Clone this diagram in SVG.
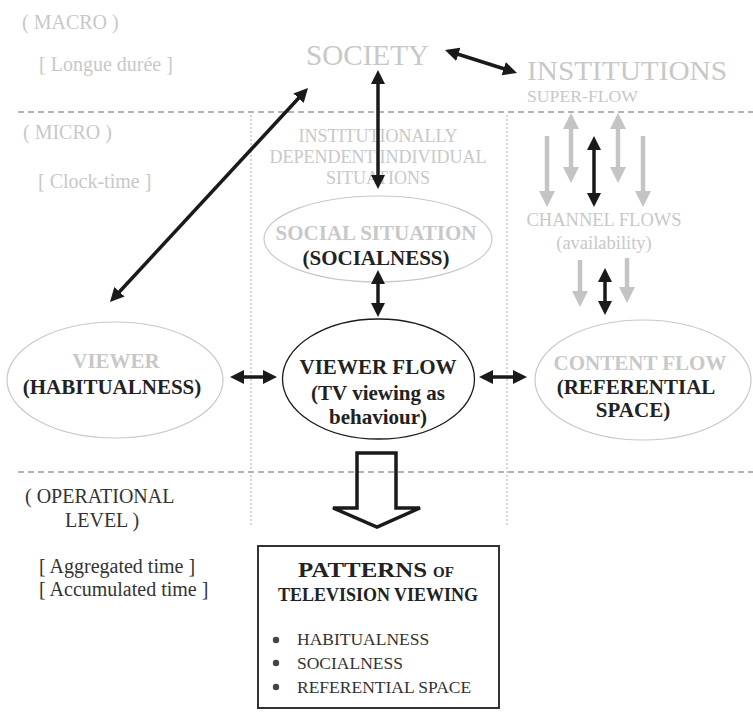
<svg xmlns="http://www.w3.org/2000/svg" width="753" height="714" viewBox="0 0 753 714" font-family="'Liberation Serif', 'Times New Roman', serif">
<defs>
<style>
text{font-family:'Liberation Serif','Times New Roman',serif;}
.g{fill:#c8c8c8;}
.d{fill:#222;}
.b{font-weight:bold;}
.lab{font-size:20px;}
.ell{font-size:21px;font-weight:bold;}
.mid{text-anchor:middle;}
.dash{stroke:#9a9a9a;stroke-width:1.3;stroke-dasharray:6,4;fill:none;}
.dot{stroke:#aaa;stroke-width:1;stroke-dasharray:2,2;fill:none;}
.ge{fill:none;stroke:#c8c8c8;stroke-width:1.2;}
.blk{stroke:#1a1a1a;stroke-width:3.5;fill:none;}
.gry{stroke:#c4c4c4;stroke-width:4.5;fill:none;}
</style>
<marker id="ah" viewBox="0 0 14 14" refX="1" refY="7" markerWidth="14" markerHeight="14" markerUnits="userSpaceOnUse" orient="auto-start-reverse"><path d="M0,0 L14,7 L0,14 z" fill="#1a1a1a"/></marker>
<marker id="gh" viewBox="0 0 16 16" refX="1" refY="8" markerWidth="16" markerHeight="16" markerUnits="userSpaceOnUse" orient="auto-start-reverse"><path d="M0,0 L16,8 L0,16 z" fill="#c4c4c4"/></marker>
</defs>
<rect width="753" height="714" fill="#fff"/>

<g id="grid">
<line class="dash" x1="18" y1="112" x2="753" y2="112"/>
<line class="dash" x1="18" y1="472" x2="753" y2="472"/>
<line class="dot" x1="251" y1="115" x2="251" y2="525"/>
<line class="dot" x1="507" y1="115" x2="507" y2="525"/>
</g>

<g id="level-labels">
<text class="g lab" x="22" y="29">( MACRO )</text>
<text class="g lab" x="39" y="71">[ Longue durée ]</text>
<text class="g lab" x="23" y="139">( MICRO )</text>
<text class="g lab" x="38" y="188">[ Clock-time ]</text>
<text class="lab" x="25" y="503" fill="#333">( OPERATIONAL</text>
<text class="lab" x="65" y="527" fill="#333">LEVEL )</text>
<text class="lab" x="39" y="573" fill="#333">[ Aggregated time ]</text>
<text class="lab" x="39" y="596" fill="#333">[ Accumulated time ]</text>
</g>

<g id="society">
<text class="g" x="306" y="65" font-size="29" textLength="123" lengthAdjust="spacingAndGlyphs">SOCIETY</text>
</g>

<g id="institutions">
<text class="g" x="527" y="80" font-size="27" textLength="200" lengthAdjust="spacingAndGlyphs">INSTITUTIONS</text>
<text class="g" x="527" y="102" font-size="17.5" textLength="111" lengthAdjust="spacingAndGlyphs">SUPER-FLOW</text>
</g>

<g id="individual-situations">
<text class="g mid" x="378" y="142" font-size="18">INSTITUTIONALLY</text>
<text class="g mid" x="378" y="163" font-size="18">DEPENDENT INDIVIDUAL</text>
<text class="g mid" x="378" y="184" font-size="18">SITUATIONS</text>
</g>

<g id="channel-flows">
<text class="g mid" x="604" y="226" font-size="18.5">CHANNEL FLOWS</text>
<text class="g mid" x="604" y="249" font-size="18.5">(availability)</text>
</g>

<g id="social-situation">
<ellipse class="ge" cx="378" cy="239" rx="114" ry="43"/>
<text class="g ell mid" x="376" y="240">SOCIAL SITUATION</text>
<text class="d ell mid" x="376" y="265">(SOCIALNESS)</text>
</g>

<g id="viewer">
<ellipse class="ge" cx="115" cy="380" rx="108" ry="58"/>
<text class="g ell mid" x="116" y="368">VIEWER</text>
<text class="d ell mid" x="112" y="394">(HABITUALNESS)</text>
</g>

<g id="viewer-flow">
<ellipse cx="378.5" cy="379" rx="96" ry="60" fill="none" stroke="#1a1a1a" stroke-width="1.3"/>
<text class="d ell mid" x="378" y="374">VIEWER FLOW</text>
<text class="d ell mid" x="378" y="400">(TV viewing as</text>
<text class="d ell mid" x="378" y="424">behaviour)</text>
</g>

<g id="content-flow">
<ellipse class="ge" cx="643" cy="380" rx="108" ry="60"/>
<text class="g ell mid" x="640" y="370" font-size="22">CONTENT FLOW</text>
<text class="d ell mid" x="636" y="394" font-size="22">(REFERENTIAL</text>
<text class="d ell mid" x="633" y="417" font-size="22">SPACE)</text>
</g>

<g id="patterns">
<path d="M357,453 L396,453 L396,508 L420,508 L377,527 L333,508 L357,508 Z" fill="none" stroke="#1a1a1a" stroke-width="3.5" stroke-linejoin="miter"/>
<rect x="258" y="546" width="241" height="162" fill="none" stroke="#333" stroke-width="2"/>
<text class="d b" x="298" y="577" font-size="22" textLength="129" lengthAdjust="spacingAndGlyphs">PATTERNS</text>
<text class="d b" x="433" y="577" font-size="15">OF</text>
<text class="d b mid" x="378" y="601" font-size="18">TELEVISION VIEWING</text>
<circle cx="276" cy="640" r="3.2" fill="#444"/>
<circle cx="276" cy="663" r="3.2" fill="#444"/>
<circle cx="276" cy="687" r="3.2" fill="#444"/>
<text x="297" y="645" font-size="17.5" fill="#333">HABITUALNESS</text>
<text x="297" y="669" font-size="17.5" fill="#333">SOCIALNESS</text>
<text x="297" y="693" font-size="17.5" fill="#333">REFERENTIAL SPACE</text>
</g>

<g id="connectors">
<line class="blk" x1="457.4" y1="54" x2="504.6" y2="69" marker-start="url(#ah)" marker-end="url(#ah)"/>
<line class="blk" x1="378" y1="83" x2="378" y2="176" marker-start="url(#ah)" marker-end="url(#ah)"/>
<line class="blk" x1="118.8" y1="292.5" x2="299.2" y2="97.5" marker-start="url(#ah)" marker-end="url(#ah)"/>
<line class="blk" x1="378" y1="283" x2="378" y2="304" marker-start="url(#ah)" marker-end="url(#ah)"/>
<line class="blk" x1="243" y1="377" x2="264" y2="377" marker-start="url(#ah)" marker-end="url(#ah)"/>
<line class="blk" x1="492" y1="377" x2="514" y2="377" marker-start="url(#ah)" marker-end="url(#ah)"/>
<line class="gry" x1="547" y1="136" x2="547" y2="192" marker-end="url(#gh)"/>
<line class="gry" x1="571" y1="128" x2="571" y2="168" marker-start="url(#gh)" marker-end="url(#gh)"/>
<line class="gry" x1="618" y1="128" x2="618" y2="168" marker-start="url(#gh)" marker-end="url(#gh)"/>
<line class="gry" x1="643" y1="136" x2="643" y2="192" marker-end="url(#gh)"/>
<line class="blk" x1="594" y1="149" x2="594" y2="194" marker-start="url(#ah)" marker-end="url(#ah)"/>
<line class="gry" x1="580" y1="260" x2="580" y2="292" marker-end="url(#gh)"/>
<line class="gry" x1="627" y1="258" x2="627" y2="288" marker-end="url(#gh)"/>
<line class="blk" x1="605" y1="281" x2="605" y2="302" marker-start="url(#ah)" marker-end="url(#ah)"/>
</g>
</svg>
